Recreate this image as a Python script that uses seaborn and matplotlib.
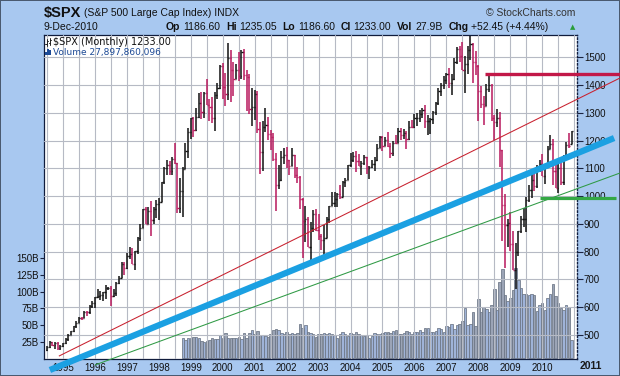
import numpy as np
import pandas as pd
import seaborn as sns
import matplotlib.pyplot as plt
from matplotlib.lines import Line2D
from matplotlib.patches import Rectangle

# monthly bars, Jul 1994 .. Dec 2010
months = pd.date_range("1994-07-01", "2010-12-01", freq="MS")

opens = [
    444.3, 458.3, 475.5, 462.7, 472.4, 453.7,
    459.3, 470.4, 487.4, 500.7, 514.7, 533.4, 544.8, 562.1, 561.9, 584.4, 581.5, 605.4,
    615.9, 636.0, 640.4, 645.5, 654.2, 669.1, 670.6, 639.9, 652.0, 687.3, 705.3, 757.0,
    740.7, 786.2, 790.8, 757.1, 801.3, 848.3, 885.1, 954.3, 899.5, 947.3, 914.6, 955.4,
    970.4, 980.3, 1049.3, 1101.8, 1111.8, 1090.8, 1133.8, 1120.7, 957.3, 1017.0, 1098.7, 1163.6,
    1229.2, 1279.6, 1238.3, 1286.4, 1335.2, 1301.8, 1372.7, 1328.7, 1320.4, 1282.7, 1362.9, 1388.9,
    1469.3, 1394.5, 1366.4, 1498.6, 1452.4, 1420.6, 1454.6, 1430.8, 1517.7, 1436.5, 1429.4, 1315.2,
    1320.3, 1366.0, 1239.9, 1160.3, 1249.5, 1255.8, 1224.4, 1211.2, 1133.6, 1040.9, 1059.8, 1139.5,
    1148.1, 1130.2, 1106.7, 1147.4, 1076.9, 1067.1, 989.8, 911.6, 916.1, 815.3, 885.8, 936.3,
    879.8, 855.7, 841.2, 848.2, 916.9, 963.6, 974.5, 990.3, 1008.0, 996.0, 1050.7, 1058.2,
    1111.9, 1131.1, 1144.9, 1126.2, 1107.3, 1120.7, 1140.8, 1101.7, 1104.2, 1114.6, 1130.2, 1173.8,
    1211.9, 1181.3, 1203.6, 1180.6, 1156.9, 1191.5, 1191.3, 1234.2, 1220.3, 1228.8, 1207.0, 1249.5,
    1248.3, 1280.1, 1280.7, 1294.9, 1310.6, 1270.1, 1270.2, 1276.7, 1303.8, 1335.9, 1377.9, 1400.6,
    1418.3, 1438.2, 1406.8, 1420.9, 1482.4, 1530.6, 1503.4, 1455.3, 1474.0, 1526.8, 1549.4, 1481.1,
    1468.4, 1378.6, 1330.6, 1322.7, 1385.6, 1400.4, 1280.0, 1267.4, 1282.8, 1166.4, 968.8, 896.2,
    903.3, 825.9, 735.1, 797.9, 872.8, 919.1, 919.3, 987.5, 1020.6, 1057.1, 1036.2, 1095.6,
    1115.1, 1073.9, 1104.5, 1169.4, 1186.7, 1089.4, 1030.7, 1101.6, 1049.3, 1141.2, 1183.3, 1186.6,
]
highs = [
    459.3, 477.6, 476.6, 475.3, 474.9, 465.0,
    472.8, 489.2, 503.9, 515.3, 534.0, 551.1, 563.8, 565.6, 586.9, 587.9, 608.1, 622.9,
    638.5, 664.2, 656.9, 656.0, 680.0, 673.3, 675.9, 666.1, 690.9, 711.7, 762.3, 761.8,
    794.7, 817.7, 814.9, 804.1, 851.9, 898.7, 955.4, 961.6, 960.5, 983.1, 960.1, 986.3,
    992.7, 1051.1, 1105.7, 1130.5, 1125.0, 1139.7, 1190.6, 1121.0, 1066.1, 1103.8, 1193.0, 1244.9,
    1280.4, 1283.8, 1316.6, 1371.6, 1376.0, 1375.9, 1420.3, 1351.3, 1357.7, 1373.2, 1408.2, 1473.1,
    1478.0, 1444.6, 1552.9, 1527.2, 1481.5, 1474.6, 1517.3, 1525.2, 1530.1, 1454.8, 1438.5, 1389.1,
    1383.4, 1376.9, 1267.4, 1269.3, 1315.9, 1286.6, 1239.8, 1226.3, 1155.4, 1110.6, 1163.4, 1173.0,
    1176.6, 1130.2, 1173.9, 1147.8, 1106.6, 1070.7, 994.5, 965.0, 924.0, 907.4, 951.0, 954.3,
    935.1, 864.6, 895.9, 924.2, 965.4, 1015.3, 1015.4, 1011.0, 1040.3, 1053.8, 1063.7, 1112.6,
    1155.4, 1159.0, 1163.2, 1150.6, 1127.7, 1146.3, 1140.8, 1109.7, 1131.5, 1142.1, 1188.5, 1217.3,
    1217.8, 1212.4, 1229.1, 1191.9, 1199.6, 1219.6, 1245.2, 1245.9, 1243.1, 1233.3, 1270.6, 1275.8,
    1294.9, 1297.6, 1310.9, 1318.2, 1326.7, 1290.7, 1280.4, 1306.7, 1340.3, 1389.5, 1407.9, 1431.8,
    1441.6, 1461.6, 1438.9, 1498.0, 1535.6, 1540.6, 1555.9, 1503.9, 1538.7, 1576.1, 1552.8, 1523.6,
    1471.8, 1396.0, 1359.7, 1404.6, 1440.2, 1404.1, 1292.2, 1313.2, 1303.0, 1167.0, 1007.5, 918.9,
    943.9, 875.0, 833.0, 876.0, 930.2, 956.2, 996.7, 1039.5, 1080.2, 1101.4, 1111.1, 1130.4,
    1150.5, 1112.4, 1180.2, 1219.8, 1206.0, 1131.2, 1121.0, 1129.2, 1148.7, 1196.1, 1227.1, 1235.05,
]
lows = [
    442.0, 454.9, 460.5, 449.6, 446.7, 445.9,
    457.2, 469.2, 479.8, 500.2, 511.6, 526.0, 542.1, 553.9, 560.9, 570.1, 576.8, 596.4,
    597.3, 633.7, 627.6, 624.1, 630.1, 662.1, 605.9, 638.3, 639.7, 684.8, 703.8, 716.7,
    737.0, 773.4, 755.4, 733.5, 793.2, 838.5, 884.5, 899.4, 899.4, 855.3, 901.1, 921.6,
    912.8, 979.3, 1044.4, 1076.7, 1074.4, 1074.7, 1114.3, 940.0, 939.7, 923.3, 1098.4, 1136.9,
    1205.5, 1211.9, 1234.0, 1281.4, 1277.3, 1279.5, 1328.7, 1268.7, 1263.3, 1233.7, 1349.3, 1387.4,
    1350.1, 1325.1, 1346.6, 1339.4, 1361.1, 1420.6, 1413.9, 1422.0, 1419.4, 1305.8, 1294.9, 1254.1,
    1274.6, 1228.3, 1081.2, 1092.0, 1232.0, 1203.0, 1165.5, 1124.9, 944.8, 1026.8, 1054.3, 1114.5,
    1101.2, 1074.4, 1106.7, 1063.5, 1049.0, 952.9, 775.7, 833.4, 815.3, 768.6, 872.1, 872.8,
    840.3, 806.3, 788.9, 847.9, 902.8, 963.6, 962.1, 960.8, 990.4, 996.0, 1031.2, 1058.2,
    1105.1, 1124.4, 1087.2, 1107.2, 1076.3, 1113.3, 1078.8, 1060.7, 1101.3, 1090.2, 1127.6, 1173.8,
    1163.8, 1180.1, 1176.8, 1136.2, 1146.2, 1188.3, 1191.3, 1201.1, 1205.4, 1168.2, 1201.1, 1246.6,
    1245.7, 1253.6, 1268.4, 1280.7, 1245.3, 1219.3, 1224.5, 1261.3, 1290.9, 1327.1, 1361.0, 1385.9,
    1404.0, 1389.1, 1364.0, 1416.4, 1476.7, 1484.2, 1454.3, 1370.6, 1439.3, 1489.6, 1406.1, 1435.7,
    1270.1, 1316.8, 1257.0, 1324.4, 1373.1, 1272.0, 1200.4, 1248.6, 1106.4, 839.8, 741.0, 815.7,
    804.1, 734.5, 666.8, 783.3, 866.1, 888.9, 869.3, 978.5, 992.0, 1020.0, 1029.4, 1085.9,
    1071.6, 1044.5, 1101.0, 1168.0, 1040.8, 1028.3, 1010.9, 1039.7, 1041.1, 1131.9, 1173.0, 1186.6,
]
closes = [
    458.3, 475.5, 462.7, 472.4, 453.7, 459.3,
    470.4, 487.4, 500.7, 514.7, 533.4, 544.8, 562.1, 561.9, 584.4, 581.5, 605.4, 615.9,
    636.0, 640.4, 645.5, 654.2, 669.1, 670.6, 639.9, 652.0, 687.3, 705.3, 757.0, 740.7,
    786.2, 790.8, 757.1, 801.3, 848.3, 885.1, 954.3, 899.5, 947.3, 914.6, 955.4, 970.4,
    980.3, 1049.3, 1101.8, 1111.8, 1090.8, 1133.8, 1120.7, 957.3, 1017.0, 1098.7, 1163.6, 1229.2,
    1279.6, 1238.3, 1286.4, 1335.2, 1301.8, 1372.7, 1328.7, 1320.4, 1282.7, 1362.9, 1388.9, 1469.3,
    1394.5, 1366.4, 1498.6, 1452.4, 1420.6, 1454.6, 1430.8, 1517.7, 1436.5, 1429.4, 1315.2, 1320.3,
    1366.0, 1239.9, 1160.3, 1249.5, 1255.8, 1224.4, 1211.2, 1133.6, 1040.9, 1059.8, 1139.5, 1148.1,
    1130.2, 1106.7, 1147.4, 1076.9, 1067.1, 989.8, 911.6, 916.1, 815.3, 885.8, 936.3, 879.8,
    855.7, 841.2, 848.2, 916.9, 963.6, 974.5, 990.3, 1008.0, 996.0, 1050.7, 1058.2, 1111.9,
    1131.1, 1144.9, 1126.2, 1107.3, 1120.7, 1140.8, 1101.7, 1104.2, 1114.6, 1130.2, 1173.8, 1211.9,
    1181.3, 1203.6, 1180.6, 1156.9, 1191.5, 1191.3, 1234.2, 1220.3, 1228.8, 1207.0, 1249.5, 1248.3,
    1280.1, 1280.7, 1294.9, 1310.6, 1270.1, 1270.2, 1276.7, 1303.8, 1335.9, 1377.9, 1400.6, 1418.3,
    1438.2, 1406.8, 1420.9, 1482.4, 1530.6, 1503.4, 1455.3, 1474.0, 1526.8, 1549.4, 1481.1, 1468.4,
    1378.6, 1330.6, 1322.7, 1385.6, 1400.4, 1280.0, 1267.4, 1282.8, 1166.4, 968.8, 896.2, 903.3,
    825.9, 735.1, 797.9, 872.8, 919.1, 919.3, 987.5, 1020.6, 1057.1, 1036.2, 1095.6, 1115.1,
    1073.9, 1104.5, 1169.4, 1186.7, 1089.4, 1030.7, 1101.6, 1049.3, 1141.2, 1183.3, 1180.6, 1233.0,
]

# monthly volume in billions, Oct 1998 .. Dec 2010
vol_months = pd.date_range("1998-10-01", "2010-12-01", freq="MS")
volume_b = [
    30, 28, 30,
    31, 32.5, 32.5, 31, 26, 25, 26, 28, 30, 29, 29, 35,
    31, 37.5, 31, 30, 30, 30, 32.5, 29, 37.5, 31, 37.5, 42.5,
    36, 41, 35, 35, 34, 32.5, 36, 42.5, 44, 42, 38, 37,
    40, 37, 38, 36, 38, 52, 46, 50, 40, 38, 36, 32,
    37, 36, 38, 37, 38, 36, 35, 31, 37, 40, 36, 33,
    38, 36, 40, 36, 35, 33, 35, 31, 33, 38, 37, 36,
    38, 39, 40, 38, 41, 42, 37, 37, 38, 41, 40, 37,
    40, 40, 43, 39, 46, 46, 40, 40, 41, 45, 44, 39,
    48, 47, 52, 44, 50, 52, 56, 75, 50, 52, 70, 48,
    89, 69, 77, 74, 69, 80, 104, 72, 114, 134, 95, 86,
    90, 102, 136, 117, 105, 96, 96, 95, 96, 95, 71, 80,
    83, 72, 90, 97, 111, 94, 83, 75, 72, 80, 77, 28,
]

# hand drawn trend lines: (start year, start price, end year, end price)
trend_lines = {
    "blue": (1994.59, 374, 2012.25, 1209),
    "red": (1994.87, 424, 2012.43, 1425),
    "green": (1996.0, 392, 2012.43, 1083),
    "resist": (2008.21, 1441, 2012.43, 1441),
    "support": (2009.93, 992, 2012.31, 992),
}
year_labels = [str(y) for y in range(1995, 2011)]

sns.set_style("white")
plt.rcParams["font.family"] = ["Liberation Sans", "DejaVu Sans"]

W, H = 620, 376
def fx(px):
    return px / W
def fy(py):
    return 1 - py / H

fig = plt.figure(figsize=(6.2, 3.76), dpi=100)
fig.patch.set_facecolor("#a8c8f0")
fig.patch.set_edgecolor("#4a5a70")
fig.patch.set_linewidth(1.2)

ax_vol = fig.add_axes([fx(44), fy(359), fx(577) - fx(44), fy(35) - fy(359)])
ax_vol.set_facecolor("white")
ax = ax_vol.twinx()

t = np.array(months.year + (months.month - 1) / 12.0)
vt = np.array(vol_months.year + (vol_months.month - 1) / 12.0)
o, h, l, c = map(np.array, (opens, highs, lows, closes))
prev = np.concatenate([[o[0]], c[:-1]])
up = c >= prev
bar_cols = np.where(up, "#111111", "#b8185c")

# volume, greyer for down months
vprev = dict(zip(t, up))
vcols = ["#9fb3d8" if vprev.get(x, True) else "#9ba4b6" for x in vt]
ax_vol.bar(vt, volume_b, width=1 / 12 * 0.92, color=vcols, edgecolor="#6b7585",
           linewidth=0.55, align="center", zorder=1)

# OHLC bars
dw = 0.036
ax.vlines(t, l, h, colors=bar_cols, linewidth=1.1, zorder=3)
ax.hlines(o, t - dw, t, colors=bar_cols, linewidth=1.0, zorder=3)
ax.hlines(c, t, t + dw, colors=bar_cols, linewidth=1.0, zorder=3)

styles = {
    "blue": ("#1ba0e2", 4.5),
    "red": ("#c8202e", 0.75),
    "green": ("#2f9a45", 0.75),
    "resist": ("#c21848", 2.4),
    "support": ("#34a845", 2.3),
}
for name, (x0, y0, x1, y1) in trend_lines.items():
    col, lw = styles[name]
    sns.lineplot(x=[x0, x1], y=[y0, y1], ax=ax, color=col, linewidth=lw,
                 clip_on=False, zorder=10, solid_capstyle="butt")

ax.set_xlim(1994.405, 2011.088)
ax_vol.set_xlim(1994.405, 2011.088)
ax.set_ylim(413.6, 1580)
ax_vol.set_ylim(-0.9, 484.9)
ax.set_xlabel("")
ax.set_ylabel("")

# x grid & year labels
ax_vol.set_xticks(list(range(1995, 2012)))
ax_vol.set_xticklabels(year_labels + [""])
ax_vol.set_xticks([y + 0.5 for y in range(1994, 2011)], minor=True)
ax_vol.set_axisbelow(False)
ax_vol.grid(which="both", axis="x", color="#b6bac4", linewidth=0.8, zorder=2.5)
ax_vol.tick_params(axis="x", which="both", length=0, pad=3, labelsize=7, labelcolor="#111111")

ax_vol.set_yticks([25, 50, 75, 100, 125, 150])
ax_vol.set_yticklabels(["25B", "50B", "75B", "100B", "125B", "150B"])
ax_vol.tick_params(axis="y", length=3, width=0.8, pad=1, labelsize=7, color="#1a2340",
                   labelcolor="#111111")

ax.set_yticks(list(range(500, 1600, 100)))
ax.set_axisbelow(True)
ax.grid(axis="y", color="#b6bac4", linewidth=0.8)
ax.tick_params(axis="y", length=4, width=0.8, pad=1, labelsize=7, color="#1a2340",
               labelcolor="#111111")

for sp in ax_vol.spines.values():
    sp.set_color("#101c3c")
    sp.set_linewidth(0.9)
for name in ("left", "top", "bottom"):
    ax.spines[name].set_visible(False)
ax_vol.spines["right"].set_visible(False)
ax.spines["right"].set_color("#101c3c")
ax.spines["right"].set_linestyle(":")
ax.spines["right"].set_linewidth(1.0)

fig.text(fx(591), fy(366), "2011", fontsize=7.5, fontweight="bold", color="#1a1a1a",
         ha="center", va="center")

# header
r = fig.canvas.get_renderer()
def row(pieces, x0, y):
    x = x0
    for s, bold, size, color, gap in pieces:
        tx = fig.text(fx(x), fy(y), s, fontsize=size, fontweight="bold" if bold else "normal",
                      color=color, ha="left", va="center")
        x += tx.get_window_extent(renderer=r).width + gap
    return x

row([("$SPX", True, 10.5, "#111111", 3),
     ("(S&P 500 Large Cap Index) INDX", False, 7.5, "#111111", 0)], 44, 13)
fig.text(fx(575), fy(13), "\u00a9 StockCharts.com", fontsize=7.5, color="#333333",
         ha="right", va="center")
fig.text(fx(44), fy(27), "9-Dec-2010", fontsize=7.5, color="#111111", ha="left", va="center")
hdr = []
for lab, val in [("Op", "1186.60"), ("Hi", "1235.05"), ("Lo", "1186.60"), ("Cl", "1233.00"),
                 ("Vol", "27.9B"), ("Chg", "+52.45 (+4.44%)")]:
    hdr.append((lab, True, 7.5, "#111111", 2.5))
    hdr.append((val, False, 7.5, "#111111", 6))
row(hdr, 166, 27)
fig.text(fx(570), fy(27), "\u25b2", fontsize=5, color="#2a9d3a", ha="left", va="center",
         family="DejaVu Sans")

# legend inside plot
fig.text(fx(53), fy(42), "$SPX (Monthly) 1233.00", fontsize=7, color="#111111",
         ha="left", va="center", family="DejaVu Sans")
fig.text(fx(53), fy(52), "Volume 27,897,860,096", fontsize=6.5, color="#1c4a96",
         ha="left", va="center", family="DejaVu Sans")

def pxline(xs, ys, **kw):
    fig.add_artist(Line2D([fx(v) for v in xs], [fy(v) for v in ys],
                          transform=fig.transFigure, **kw))

for xx, top, bot in [(46.5, 38.5, 45.5), (49.5, 37.5, 44.5)]:
    pxline([xx, xx], [top, bot], color="#222222", linewidth=0.7)
    pxline([xx - 1, xx], [bot - 2, bot - 2], color="#222222", linewidth=0.7)
    pxline([xx, xx + 1], [top + 2, top + 2], color="#222222", linewidth=0.7)
for xx, hh in [(45.5, 3), (47.3, 6), (49.1, 4.5)]:
    fig.add_artist(Rectangle((fx(xx), fy(55)), 1.4 / W, hh / H, transform=fig.transFigure,
                             facecolor="#1c4a96", edgecolor="none"))

fig.savefig("out.png", dpi=100, facecolor=fig.get_facecolor(), edgecolor=fig.get_edgecolor())
